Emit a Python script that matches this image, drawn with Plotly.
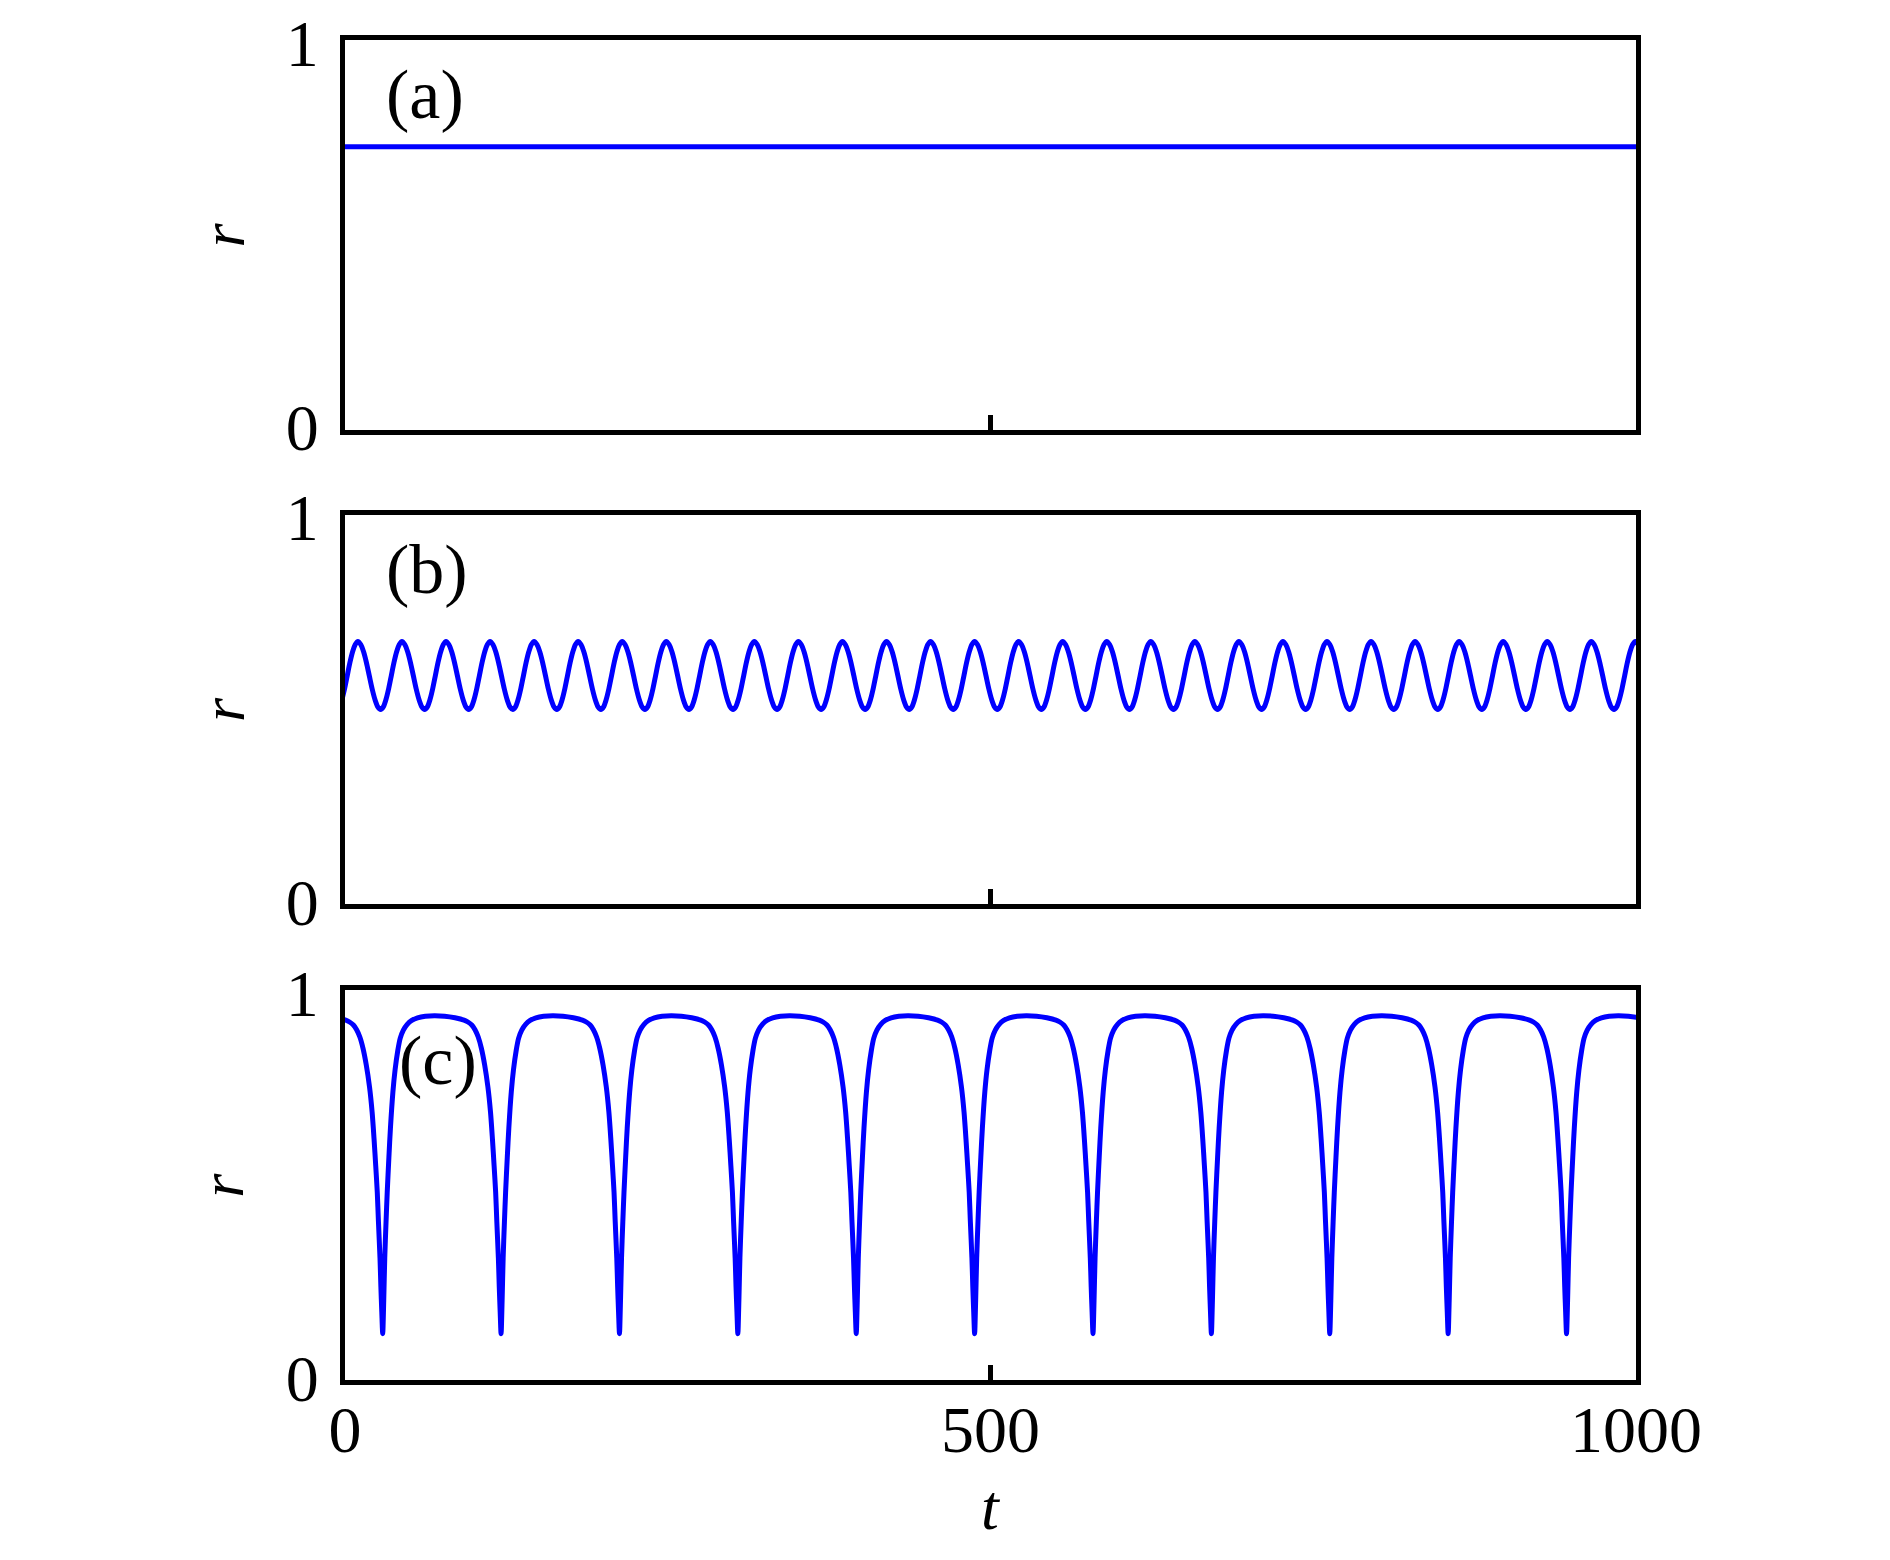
import plotly.graph_objects as go

# ---------------- data ----------------
t_range = [0, 1000]
x_tick_vals = [0, 500, 1000]
x_tick_text = ["0", "500", "1000"]
y_tick_vals = [0, 1]
y_tick_text = ["0", "1"]
panel_labels = ["(a)", "(b)", "(c)"]

# (a) constant order parameter
a_t = [0, 1000]
a_r = [0.729, 0.729]

# (b) small oscillation: times of the maxima and one cycle profile (offset from a maximum)
b_peak_times = [-24.12, 10.0, 44.12, 78.24, 112.36, 146.48, 180.6, 214.72, 248.84,
                282.96, 317.08, 351.2, 385.32, 419.44, 453.56, 487.68, 521.8, 555.92,
                590.04, 624.16, 658.28, 692.4, 726.52, 760.64, 794.76, 828.88, 863.0,
                897.12, 931.24, 965.36, 999.48]
b_cycle_dt = [0, 2.2, 4.4, 6.6, 8.8, 11.0, 13.2, 15.4, 17.6, 19.67, 21.73, 23.8,
              25.86, 27.93, 30.0, 32.05, 34.12]
b_cycle_r = [0.677, 0.669, 0.650, 0.622, 0.588, 0.554, 0.526, 0.507, 0.500, 0.507,
             0.526, 0.554, 0.588, 0.622, 0.650, 0.669, 0.677]

# (c) large phase-slip oscillation: times of the dips and one cycle profile (offset from a dip)
c_dip_times = [-62.5, 29.2, 120.9, 212.6, 304.3, 396.0, 487.7, 579.4, 671.1,
               762.8, 854.5, 946.2]
c_cycle_dt = [0, 0.8, 1.6, 2.6, 3.5, 4.8, 6.0, 7.9, 9.6, 11.7, 13.6, 16.0, 19.0,
              22.5, 27.0, 33.0, 40.0, 48.0, 56.0, 63.0, 66.0, 69.0, 71.5, 74.0,
              76.5, 79.0, 81.5, 83.5, 85.0, 86.3, 87.5, 88.4, 89.6, 90.3, 91.0, 91.7]
c_cycle_r = [0.114, 0.20, 0.311, 0.405, 0.481, 0.572, 0.648, 0.742, 0.800, 0.850,
             0.882, 0.903, 0.918, 0.928, 0.935, 0.939, 0.940, 0.939, 0.935, 0.929,
             0.924, 0.916, 0.904, 0.885, 0.855, 0.812, 0.755, 0.690, 0.620, 0.550,
             0.481, 0.405, 0.311, 0.235, 0.17, 0.114]


def tile(anchors, dts, rs):
    ts, vs = [], []
    for k, a in enumerate(anchors):
        n = len(dts) if k == len(anchors) - 1 else len(dts) - 1
        for i in range(n):
            ts.append(a + dts[i])
            vs.append(rs[i])
    return ts, vs


b_t, b_r = tile(b_peak_times, b_cycle_dt, b_cycle_r)
c_t, c_r = tile(c_dip_times, c_cycle_dt, c_cycle_r)

# ---------------- figure ----------------
W, H = 1890, 1560
LW = 5                      # frame line width
L, R, T, B = 336.5, 261.5, 31.5, 187.5
ph = H - T - B
pw = W - L - R
FONT = "Liberation Serif"
BLUE = "#0000ff"


def frac(top_fig, bot_fig):
    return [(H - B - bot_fig) / ph, (H - B - top_fig) / ph]


# plot areas in figure pixels (frame lines sit 2.5 px outside)
domains = [frac(31.5, 421.5), frac(506.5, 896.5), frac(982.5, 1372.5)]
eps = (LW / 2) / 390.0
y_range = [-eps, 1 + eps]

fig = go.Figure()
series = [(a_t, a_r), (b_t, b_r), (c_t, c_r)]
for i, (tx, ry) in enumerate(series):
    ax = "" if i == 0 else str(i + 1)
    fig.add_trace(go.Scatter(
        x=tx, y=ry, mode="lines",
        line=dict(color=BLUE, width=5, shape="spline", smoothing=0.8),
        xaxis="x" + ax, yaxis="y" + ax, showlegend=False, hoverinfo="skip"))

axis_common = dict(showline=True, linecolor="black", linewidth=LW, mirror=True,
                   showgrid=False, zeroline=False, automargin=False,
                   ticklabeloverflow="allow",
                   tickfont=dict(family=FONT, size=66, color="black"))

layout = dict(width=W, height=H,
              margin=dict(l=L, r=R, t=T, b=B, autoexpand=False),
              paper_bgcolor="white", plot_bgcolor="white", showlegend=False)

for i in range(3):
    ax = "" if i == 0 else str(i + 1)
    layout["xaxis" + ax] = dict(
        axis_common, domain=[0, 1], range=t_range, anchor="y" + ax,
        tickvals=x_tick_vals, ticktext=x_tick_text, ticks="inside",
        ticklen=15, tickwidth=5, tickcolor="black", ticklabelstandoff=-12,
        showticklabels=(i == 2))
    layout["yaxis" + ax] = dict(
        axis_common, domain=domains[i], range=y_range, anchor="x" + ax,
        tickvals=y_tick_vals, ticktext=y_tick_text, ticks="",
        ticklabelstandoff=8)

fig.update_layout(**layout)

# y titles
for i in range(3):
    d = domains[i]
    fig.add_annotation(text="<i>r</i>", xref="paper", yref="paper",
                       x=(214 - L) / pw, y=(d[0] + d[1]) / 2,
                       xanchor="center", yanchor="middle", textangle=-90,
                       showarrow=False, font=dict(family=FONT, size=62, color="black"))
# x title
fig.add_annotation(text="<i>t</i>", xref="paper", yref="paper",
                   x=(983 - L) / pw, y=(H - B - 1500) / ph,
                   xanchor="center", yanchor="middle",
                   showarrow=False, font=dict(family=FONT, size=64, color="black"))

# panel labels
label_pos = [(30.0, 0.866), (30.0, 0.865), (40.0, 0.823)]
for i, (lx, ly) in enumerate(label_pos):
    ax = "" if i == 0 else str(i + 1)
    fig.add_annotation(text=panel_labels[i], xref="x" + ax, yref="y" + ax,
                       x=lx, y=ly, xanchor="left", yanchor="middle", showarrow=False,
                       font=dict(family=FONT, size=70, color="black"))

fig.write_html("out.html")
